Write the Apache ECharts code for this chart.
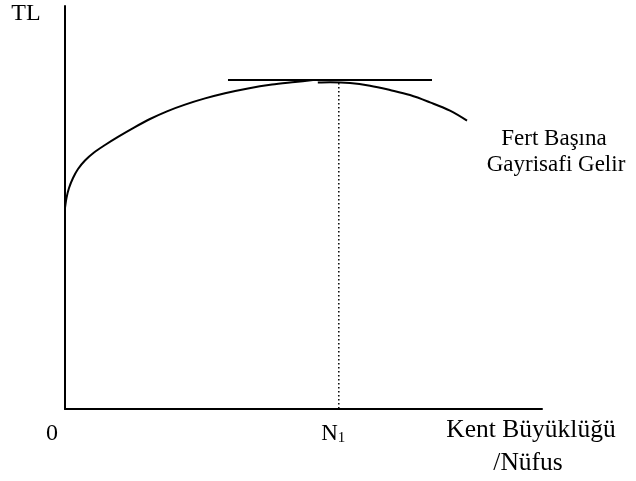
<!DOCTYPE html>
<html>
<head>
<meta charset="utf-8">
<script src="https://cdn.jsdelivr.net/npm/echarts@6/dist/echarts.min.js"></script>
<style>
  html, body { margin: 0; padding: 0; background: #fff; }
  #chart { width: 636px; height: 481px; }
</style>
</head>
<body>
<div id="chart"></div>
<script>
// eğri: kent büyüklüğü (x) - fert başına gelir (y), 0..100 ölçeğinde
const curveLeft = [
  [0, 49.88], [0.31, 52.36], [0.84, 54.84], [1.68, 57.32], [2.73, 59.55],
  [4.19, 61.66], [6.08, 63.65], [8.39, 65.51], [11.11, 67.52], [14.47, 69.83],
  [17.82, 71.96], [21.38, 73.87], [25.16, 75.53], [29.35, 77.07], [33.54, 78.36],
  [38.36, 79.55], [43.4, 80.5], [48.22, 81.14], [51.99, 81.64]
]
const curveRight = [
  [53.0, 81.0], [55.56, 81.07], [59.75, 80.89], [63.94, 80.22], [68.13, 79.16],
  [72.33, 77.92], [76.52, 76.1], [80.71, 74.02], [84.28, 71.54]
]
// tepe noktasındaki yatay teğet
const tangent = [[34.17, 81.64], [76.94, 81.64]]
// N1 noktasından inen kesikli çizgi
const dropLine = [[57.4, 80.9], [57.4, 0]]
// x ekseni etiketleri
const tickValues = [0, 57.4]
const tickLabels = ['0', 'N1']

const chart = echarts.init(document.getElementById('chart'))
const font = 'Liberation Serif, Times New Roman, serif'
const fs = 23

const lineSeries = (data, extra) => Object.assign({
  type: 'line',
  data: data,
  symbol: 'none',
  silent: true,
  lineStyle: { color: '#000', width: 2 }
}, extra)

const txt = (x, y, text, size) => ({
  type: 'text', x: x, y: y,
  style: { text: text, font: size + 'px ' + font, fill: '#000', align: 'center', verticalAlign: 'middle' }
})

chart.setOption({
  animation: false,
  grid: { left: 65, right: 94, top: 6, bottom: 72 },
  xAxis: {
    type: 'value',
    min: 0,
    max: 100,
    splitLine: { show: false },
    axisTick: { show: false },
    axisLine: { show: true, lineStyle: { color: '#000', width: 2 } },
    axisLabel: {
      customValues: tickValues,
      margin: 25,
      verticalAlign: 'middle',
      formatter: (v) => {
        const i = tickValues.indexOf(v)
        if (i === 0) return '{z|' + tickLabels[0] + '}'
        return '{n|' + tickLabels[1].charAt(0) + '}{s|' + tickLabels[1].slice(1) + '}'
      },
      rich: {
        z: { fontFamily: font, fontSize: 24, color: '#000', padding: [0, 26, 0, 0] },
        n: { fontFamily: font, fontSize: fs, color: '#000' },
        s: { fontFamily: font, fontSize: 15, color: '#000', padding: [8, 11, 0, 0] }
      }
    }
  },
  yAxis: {
    type: 'value',
    min: 0,
    max: 100,
    splitLine: { show: false },
    axisTick: { show: false },
    axisLabel: { show: false },
    axisLine: { show: true, lineStyle: { color: '#000', width: 2 } }
  },
  series: [
    lineSeries(curveLeft, { smooth: 0.3 }),
    lineSeries(curveRight, { smooth: 0.35 }),
    lineSeries(tangent),
    lineSeries(dropLine, { lineStyle: { color: '#000', width: 1.5, type: [1.5, 2.5] } })
  ],
  graphic: [
    txt(26, 14, 'TL', 24),
    txt(554, 139, 'Fert Başına', fs),
    txt(556, 165, 'Gayrisafi Gelir', fs),
    txt(531, 430, 'Kent Büyüklüğü', 25.5),
    txt(528, 463, '/Nüfus', 25.5)
  ]
})
</script>
</body>
</html>
